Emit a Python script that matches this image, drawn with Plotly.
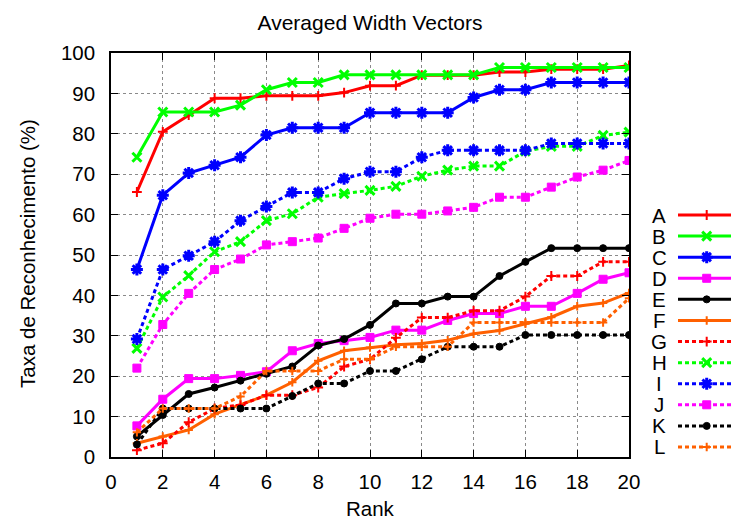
import plotly.graph_objects as go

W, H = 731, 521

# ---- data -------------------------------------------------------------
rank = list(range(1, 21))
names = ["A", "B", "C", "D", "E", "F", "G", "H", "I", "J", "K", "L"]

serie_a = [65.6, 80.5, 84.6, 88.8, 88.8, 89.4, 89.4, 89.4, 90.2, 91.9,
           91.9, 94.5, 94.5, 94.5, 95.3, 95.3, 96.0, 96.0, 96.0, 96.9]
serie_b = [74.2, 85.4, 85.4, 85.4, 87.1, 90.9, 92.7, 92.7, 94.6, 94.6,
           94.6, 94.6, 94.6, 94.6, 96.4, 96.4, 96.4, 96.4, 96.4, 96.4]
serie_c = [46.4, 64.8, 70.3, 72.2, 74.2, 79.7, 81.5, 81.5, 81.5, 85.2,
           85.2, 85.2, 85.2, 89.0, 90.9, 90.9, 92.7, 92.7, 92.7, 92.7]
serie_d = [7.7, 14.3, 19.4, 19.4, 20.2, 21.1, 26.3, 28.1, 28.8, 29.6,
           31.4, 31.4, 33.8, 35.5, 35.5, 37.3, 37.3, 40.5, 44.0, 45.6]
serie_e = [5.1, 10.4, 15.6, 17.2, 18.9, 20.6, 22.4, 27.6, 29.2, 32.7,
           38.0, 38.0, 39.7, 39.7, 44.8, 48.3, 51.7, 51.7, 51.7, 51.7]
serie_f = [3.4, 5.1, 6.7, 10.6, 12.9, 15.3, 18.5, 23.8, 26.3, 27.1,
           27.8, 28.1, 28.9, 30.5, 31.3, 33.0, 34.6, 37.3, 38.1, 40.6]
serie_g = [1.7, 3.4, 8.6, 12.0, 12.9, 15.3, 15.3, 17.2, 22.4, 24.2,
           29.5, 34.5, 34.5, 36.2, 36.2, 39.7, 44.8, 44.8, 48.3, 48.3]
serie_h = [26.9, 39.6, 44.9, 50.8, 53.3, 58.5, 60.2, 64.3, 65.2, 66.0,
           67.0, 69.5, 71.0, 72.0, 72.0, 75.7, 76.9, 76.9, 79.6, 80.4]
serie_i = [29.2, 46.4, 49.8, 53.3, 58.5, 62.0, 65.5, 65.5, 68.9, 70.6,
           70.6, 74.2, 75.9, 75.9, 75.9, 75.9, 77.6, 77.6, 77.6, 77.6]
serie_j = [22.0, 32.8, 40.5, 46.4, 49.0, 52.5, 53.3, 54.2, 56.6, 59.1,
           60.1, 60.1, 60.9, 61.8, 64.3, 64.3, 66.8, 69.3, 71.0, 73.4]
serie_k = [3.1, 12.0, 12.0, 12.0, 12.0, 12.0, 15.1, 18.2, 18.2, 21.3,
           21.3, 24.2, 27.3, 27.3, 27.3, 30.2, 30.2, 30.2, 30.2, 30.2]
serie_l = [6.1, 12.0, 12.0, 12.0, 15.0, 21.3, 21.3, 21.3, 24.2, 24.2,
           27.3, 27.3, 27.3, 33.3, 33.3, 33.3, 33.3, 33.3, 33.3, 39.3]

series = [serie_a, serie_b, serie_c, serie_d, serie_e, serie_f,
          serie_g, serie_h, serie_i, serie_j, serie_k, serie_l]

x_ticks = list(range(0, 21, 2))
y_ticks = list(range(0, 101, 10))

# ---- styles (first six solid, last six dashed with the same look) -------
base_colors = ["#ff0000", "#00ff00", "#0000ff", "#ff00ff", "#000000", "#ff6000"]
base_symbols = ["cross-thin", "x-thin", "asterisk", "square", "circle", "cross-thin"]
base_sizes = [7, 9, 10, 8, 7, 6]
base_mlw = [2, 3, 3, 1, 1, 2]
DASHED = "4px,3px"

FONT = "Liberation Sans, Arial, Helvetica, sans-serif"
FS = 20.5

# plot box in pixels
PL, PR, PT, PB = 111, 629, 53, 457

fig = go.Figure()


def style(i):
    k = i % 6
    return dict(
        color=base_colors[k],
        symbol=base_symbols[k],
        size=base_sizes[k],
        mlw=base_mlw[k],
        dash="solid" if i < 6 else DASHED,
    )


for i, (name, vals) in enumerate(zip(names, series)):
    s = style(i)
    fig.add_trace(go.Scatter(
        x=rank, y=vals, name=name, mode="lines+markers",
        line=dict(color=s["color"], width=3, dash=s["dash"]),
        marker=dict(symbol=s["symbol"], size=s["size"], color=s["color"],
                    line=dict(color=s["color"], width=s["mlw"])),
        showlegend=False, xaxis="x", yaxis="y",
    ))

# ---- key on the right: label text, then a line sample with its marker ---
KEY_TOP, KEY_STEP = 215, 21.09
KEY_X0, KEY_XM, KEY_X1, KEY_TEXT_X = 678, 706.7, 731, 659
annotations = []
for i, name in enumerate(names):
    s = style(i)
    row = KEY_TOP + i * KEY_STEP
    fig.add_trace(go.Scatter(
        x=[KEY_X0, KEY_XM, KEY_X1], y=[row, row, row], mode="lines+markers",
        line=dict(color=s["color"], width=3, dash=s["dash"]),
        marker=dict(symbol=s["symbol"], size=s["size"], color=s["color"],
                    opacity=[0, 1, 0],
                    line=dict(color=s["color"], width=s["mlw"])),
        showlegend=False, hoverinfo="skip", xaxis="x2", yaxis="y2",
        cliponaxis=False,
    ))
    annotations.append(dict(
        x=KEY_TEXT_X, y=row, xref="x2", yref="y2", text=name, showarrow=False,
        xanchor="center", yanchor="middle", font=dict(size=FS, color="black"),
    ))

annotations += [
    dict(text="Rank", x=((PL + PR) / 2) / W, y=1 - 508 / H, xref="paper", yref="paper",
         showarrow=False, xanchor="center", yanchor="middle",
         font=dict(size=FS, color="black")),
    dict(text="Taxa de Reconhecimento (%)", x=27 / W, y=1 - 254 / H,
         xref="paper", yref="paper", textangle=-90, showarrow=False,
         xanchor="center", yanchor="middle", font=dict(size=FS, color="black")),
]

axis_common = dict(
    showline=True, linecolor="black", linewidth=1.5, mirror="ticks",
    ticks="inside", ticklen=7, tickwidth=1.2, tickcolor="black",
    showgrid=True, gridcolor="#8a8a8a", gridwidth=1, griddash="dot",
    zeroline=False, automargin=False,
    tickfont=dict(size=FS, color="black", family=FONT),
)

fig.update_layout(
    width=W, height=H,
    margin=dict(l=0, r=0, t=0, b=0),
    paper_bgcolor="white", plot_bgcolor="white",
    font=dict(family=FONT, size=FS, color="black"),
    title=dict(text="Averaged Width Vectors", x=((PL + PR) / 2) / W, xanchor="center",
               y=1 - 23 / H, yanchor="middle", font=dict(size=21, color="black")),
    xaxis=dict(domain=[PL / W, PR / W], range=[0, 20], tickvals=x_ticks,
               ticklabelstandoff=6, anchor="y", **axis_common),
    yaxis=dict(domain=[1 - PB / H, 1 - PT / H], range=[0, 100], tickvals=y_ticks,
               ticklabelstandoff=10, anchor="x", **axis_common),
    xaxis2=dict(domain=[640 / W, 1], range=[640, W], visible=False,
                anchor="y2", fixedrange=True),
    yaxis2=dict(domain=[0, 1], range=[H, 0], visible=False,
                anchor="x2", fixedrange=True),
    annotations=annotations,
    showlegend=False,
)

fig.write_html("out.html")
